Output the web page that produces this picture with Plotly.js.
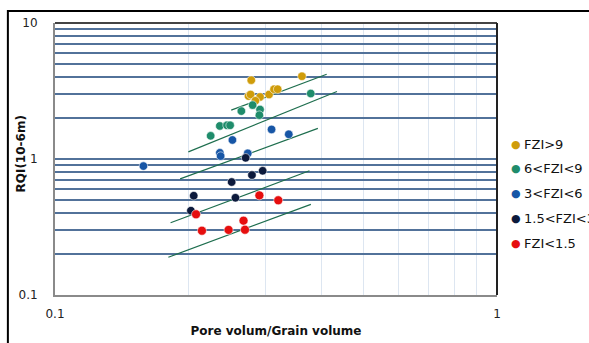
<!DOCTYPE html>
<html>
<head>
<meta charset="utf-8">
<script src="https://cdn.plot.ly/plotly-3.0.1.min.js"></script>
<style>
html,body{margin:0;padding:0;background:#fff;}
#chart{width:589px;height:343px;}
</style>
</head>
<body>
<div id="chart"></div>
<script>
// Series names
const seriesNames = ["FZI>9", "6<FZI<9", "3<FZI<6", "1.5<FZI<3", "FZI<1.5"];
const seriesColors = ["#CF9C0A", "#1F8C6B", "#1756A6", "#0C1A3C", "#E60E0E"];

// Pore volume / grain volume (x) and RQI (y) per group
const fzi9X = [0.278, 0.362, 0.274, 0.277, 0.291, 0.284, 0.305, 0.313, 0.319];
const fzi9Y = [3.80, 4.06, 2.90, 2.98, 2.86, 2.68, 2.98, 3.26, 3.26];

const fzi6X = [0.379, 0.280, 0.264, 0.291, 0.290, 0.236, 0.245, 0.249, 0.225];
const fzi6Y = [3.03, 2.49, 2.25, 2.31, 2.10, 1.75, 1.77, 1.77, 1.48];

const fzi3X = [0.1585, 0.252, 0.309, 0.338, 0.236, 0.237, 0.273];
const fzi3Y = [0.887, 1.38, 1.65, 1.52, 1.11, 1.05, 1.10];

const fzi15X = [0.270, 0.279, 0.295, 0.251, 0.206, 0.256, 0.203];
const fzi15Y = [1.02, 0.762, 0.819, 0.677, 0.537, 0.519, 0.417];

const fziLowX = [0.2085, 0.290, 0.320, 0.267, 0.215, 0.247, 0.269];
const fziLowY = [0.392, 0.540, 0.497, 0.352, 0.297, 0.301, 0.302];

// Trend lines (start, end) for each flow unit
const trend1X = [0.2504, 0.4118], trend1Y = [2.286, 4.201];
const trend2X = [0.2003, 0.4344], trend2Y = [1.129, 3.135];
const trend3X = [0.1919, 0.3933], trend3Y = [0.714, 1.678];
const trend4X = [0.1826, 0.3764], trend4Y = [0.340, 0.819];
const trend5X = [0.1805, 0.3792], trend5Y = [0.1895, 0.464];

// Tick values / labels
const xTickVals = [0.1,0.2,0.3,0.4,0.5,0.6,0.7,0.8,0.9,1];
const xTickText = ["0.1","","","","","","","","","1"];
const yTickVals = [0.1,0.2,0.3,0.4,0.5,0.6,0.7,0.8,0.9,1,2,3,4,5,6,7,8,9,10];
const yTickText = ["0.1","","","","","","","","","1","","","","","","","","","10"];

const xTitle = "Pore volum/Grain volume";
const yTitle = "RQI(10-6m)";

const groupsX = [fzi9X, fzi6X, fzi3X, fzi15X, fziLowX];
const groupsY = [fzi9Y, fzi6Y, fzi3Y, fzi15Y, fziLowY];
const trendsX = [trend1X, trend2X, trend3X, trend4X, trend5X];
const trendsY = [trend1Y, trend2Y, trend3Y, trend4Y, trend5Y];

const traces = [];
trendsX.forEach((tx, i) => {
  traces.push({x: tx, y: trendsY[i], type: 'scatter', mode: 'lines',
    line: {color: '#1E6E4E', width: 1.2}, showlegend: false, hoverinfo: 'skip'});
});
groupsX.forEach((gx, i) => {
  traces.push({x: gx, y: groupsY[i], type: 'scatter', mode: 'markers', name: seriesNames[i],
    marker: {color: seriesColors[i], size: i === 4 ? 9 : 8.5,
      line: {color: 'rgba(255,255,255,0.7)', width: 0.8}},
    showlegend: false});
});

// Manual legend (symbol + label) built from series names
const annotations = [];
const legendTop = 144, legendStep = 24.8;
const plotTop = 23, plotH = 272;
seriesNames.forEach((nm, i) => {
  const py = legendTop + i * legendStep;
  const yp = 1 - (py - plotTop) / plotH;
  annotations.push({xref: 'paper', yref: 'paper', x: 1.042, y: yp, xanchor: 'center', yanchor: 'middle',
    text: '●', showarrow: false, font: {family: 'DejaVu Sans', size: 11, color: seriesColors[i]}});
  annotations.push({xref: 'paper', yref: 'paper', x: 1.057, y: yp, xanchor: 'left', yanchor: 'middle',
    text: nm, showarrow: false, font: {family: 'DejaVu Sans', size: 13, color: '#111'}});
});
// Y axis title placed as rotated annotation
annotations.push({xref: 'paper', yref: 'paper', x: -0.077, y: 0.52, xanchor: 'center', yanchor: 'middle',
  text: '<b>' + yTitle + '</b>', textangle: -90, showarrow: false,
  font: {family: 'DejaVu Sans', size: 12, color: '#111'}});

const layout = {
  width: 589, height: 343,
  margin: {l: 55, r: 92, t: 23, b: 48, pad: 0},
  paper_bgcolor: '#fff', plot_bgcolor: '#fff',
  showlegend: false,
  font: {family: 'DejaVu Sans', size: 12, color: '#222'},
  xaxis: {
    type: 'log', range: [-1, 0],
    tickvals: xTickVals, ticktext: xTickText, ticks: '',
    showgrid: true, gridcolor: '#dde6f1', gridwidth: 1,
    showline: true, linecolor: '#8a8a8a', linewidth: 2,
    zeroline: false, ticklabelstandoff: 7,
    tickfont: {family: 'DejaVu Sans', size: 12, color: '#222'},
    title: {text: '<b>' + xTitle + '</b>', standoff: 6,
      font: {family: 'DejaVu Sans', size: 12, color: '#111'}}
  },
  yaxis: {
    type: 'log', range: [-1, 1],
    tickvals: yTickVals, ticktext: yTickText, ticks: '',
    showgrid: true, gridcolor: '#52729a', gridwidth: 1.7,
    showline: true, linecolor: '#8a8a8a', linewidth: 2,
    zeroline: false, ticklabelstandoff: 13,
    tickfont: {family: 'DejaVu Sans', size: 12, color: '#222'}
  },
  shapes: [
    {type: 'line', xref: 'paper', yref: 'paper', x0: 0, x1: 1, y0: 1, y1: 1, line: {color: '#444', width: 2}},
    {type: 'line', xref: 'paper', yref: 'paper', x0: 1, x1: 1, y0: 0, y1: 1, line: {color: '#222', width: 2}},
    {type: 'rect', xref: 'paper', yref: 'paper', x0: -0.1066, x1: 1.5, y0: -0.5, y1: 1.0445,
      line: {color: '#000', width: 2}, fillcolor: 'rgba(0,0,0,0)'}
  ],
  annotations: annotations
};

Plotly.newPlot('chart', traces, layout, {displayModeBar: false, staticPlot: true});
</script>
</body>
</html>
